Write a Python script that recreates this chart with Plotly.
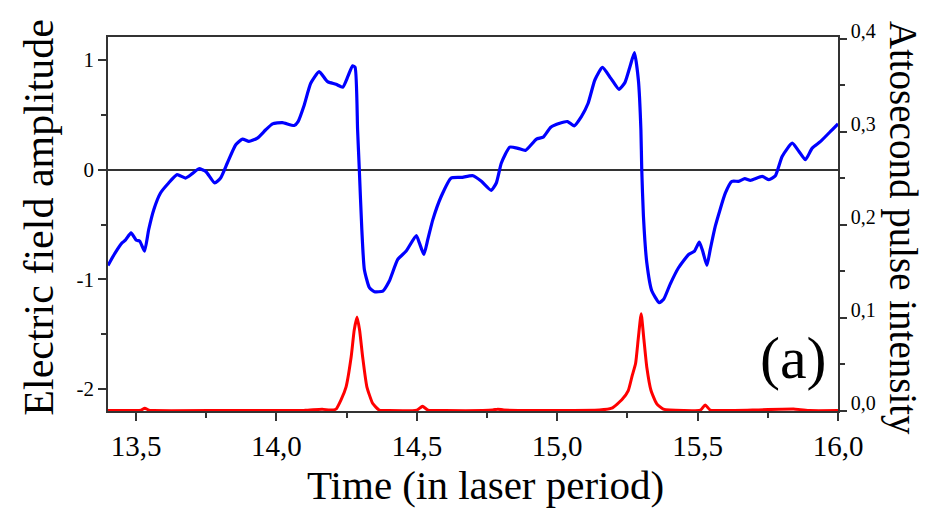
import plotly.graph_objects as go

# Electric field amplitude (left axis)
field_t = [13.400, 13.425, 13.450, 13.462, 13.482, 13.501, 13.513, 13.530, 13.545, 13.563,
           13.587, 13.616, 13.646, 13.676, 13.700, 13.724, 13.748, 13.780, 13.801, 13.825,
           13.855, 13.879, 13.902, 13.932, 13.962, 13.986, 14.021, 14.063, 14.077, 14.099,
           14.122, 14.152, 14.182, 14.212, 14.236, 14.254, 14.271, 14.280, 14.289, 14.295,
           14.304, 14.313, 14.331, 14.349, 14.379, 14.402, 14.432, 14.462, 14.498, 14.509,
           14.525, 14.539, 14.557, 14.587, 14.622, 14.658, 14.700, 14.730, 14.765, 14.783,
           14.801, 14.831, 14.861, 14.887, 14.926, 14.950, 14.977, 15.009, 15.037, 15.060,
           15.086, 15.110, 15.134, 15.161, 15.191, 15.220, 15.241, 15.259, 15.275, 15.289,
           15.298, 15.301, 15.307, 15.319, 15.337, 15.363, 15.379, 15.402, 15.432, 15.468,
           15.489, 15.506, 15.518, 15.533, 15.545, 15.563, 15.599, 15.622, 15.646, 15.668,
           15.688, 15.730, 15.754, 15.777, 15.801, 15.837, 15.861, 15.884, 15.908, 15.938,
           15.979, 16.000]
field_e = [-0.873, -0.760, -0.667, -0.643, -0.576, -0.643, -0.651, -0.742, -0.545, -0.364,
           -0.212, -0.121, -0.045, -0.076, -0.036, 0.009, -0.015, -0.121, -0.076, 0.061,
           0.227, 0.279, 0.258, 0.288, 0.364, 0.418, 0.430, 0.403, 0.439, 0.591,
           0.788, 0.894, 0.803, 0.779, 0.752, 0.848, 0.948, 0.933, 0.364, 0.006,
           -0.545, -0.909, -1.076, -1.112, -1.106, -1.015, -0.818, -0.742, -0.600, -0.667,
           -0.773, -0.636, -0.455, -0.242, -0.076, -0.070, -0.055, -0.106, -0.188, -0.121,
           0.061, 0.206, 0.194, 0.176, 0.279, 0.297, 0.388, 0.424, 0.439, 0.400,
           0.485, 0.606, 0.818, 0.933, 0.833, 0.733, 0.794, 0.939, 1.067, 0.818,
           0.364, 0.006, -0.424, -0.848, -1.106, -1.212, -1.182, -1.045, -0.894, -0.773,
           -0.742, -0.661, -0.742, -0.873, -0.727, -0.515, -0.212, -0.106, -0.106, -0.082,
           -0.097, -0.061, -0.091, -0.055, 0.121, 0.242, 0.167, 0.091, 0.197, 0.258,
           0.364, 0.418]

# Attosecond pulse intensity (right axis)
pulse_t = [13.400, 13.500, 13.518, 13.531, 13.545, 13.560, 13.800, 14.100, 14.163, 14.190,
           14.212, 14.230, 14.248, 14.266, 14.277, 14.287, 14.296, 14.307, 14.322, 14.343,
           14.366, 14.400, 14.500, 14.520, 14.540, 14.600, 14.770, 14.788, 14.810, 15.000,
           15.150, 15.194, 15.230, 15.253, 15.267, 15.279, 15.289, 15.299, 15.308, 15.319,
           15.334, 15.354, 15.378, 15.450, 15.510, 15.527, 15.545, 15.600, 15.848, 15.900,
           16.000]
pulse_i = [0.0005, 0.0005, 0.001, 0.003, 0.001, 0.0005, 0.0005, 0.0008, 0.002, 0.001,
           0.002, 0.012, 0.026, 0.058, 0.087, 0.101, 0.087, 0.058, 0.026, 0.008,
           0.001, 0.0005, 0.001, 0.005, 0.001, 0.0005, 0.001, 0.002, 0.001, 0.0005,
           0.001, 0.003, 0.012, 0.022, 0.038, 0.051, 0.079, 0.1045, 0.079, 0.047,
           0.022, 0.008, 0.002, 0.0005, 0.001, 0.0065, 0.001, 0.0005, 0.002, 0.0005,
           0.0005]

x_ticks = [13.5, 14.0, 14.5, 15.0, 15.5, 16.0]
x_labels = ["13,5", "14,0", "14,5", "15,0", "15,5", "16,0"]
y_ticks = [-2, -1, 0, 1]
y_labels = ["-2", "-1", "0", "1"]
y2_ticks = [0.0, 0.1, 0.2, 0.3, 0.4]
y2_labels = ["0,0", "0,1", "0,2", "0,3", "0,4"]

FONT = "Liberation Serif"
AX = "#333333"

fig = go.Figure()
fig.add_trace(go.Scatter(x=field_t, y=field_e, mode="lines",
                         line=dict(color="#0000ff", width=3.2, shape="spline", smoothing=0.5),
                         yaxis="y", showlegend=False))
fig.add_trace(go.Scatter(x=pulse_t, y=pulse_i, mode="lines",
                         line=dict(color="#ff0000", width=3, shape="spline", smoothing=0.5),
                         yaxis="y2", showlegend=False))

fig.update_layout(
    width=928, height=512,
    margin=dict(l=108, r=90, t=37, b=101),
    paper_bgcolor="white", plot_bgcolor="white",
    font=dict(family=FONT, color="black"),
    xaxis=dict(range=[13.4, 16.0], tickvals=x_ticks, ticktext=x_labels,
               ticks="outside", ticklen=8, tickwidth=1.5, tickcolor=AX,
               minor=dict(dtick=0.25, tick0=13.25, ticks="outside", ticklen=5,
                          tickwidth=1.5, tickcolor=AX, showgrid=False),
               showline=True, linecolor=AX, linewidth=1.5, mirror=True,
               showgrid=False, zeroline=False, layer="below traces",
               tickfont=dict(size=29, family=FONT, color="black")),
    yaxis=dict(range=[-2.2, 1.21], tickvals=y_ticks, ticktext=y_labels,
               ticks="outside", ticklen=8, tickwidth=1.5, tickcolor=AX,
               minor=dict(dtick=0.5, tick0=-2.5, ticks="outside", ticklen=5,
                          tickwidth=1.5, tickcolor=AX, showgrid=False),
               showline=True, linecolor=AX, linewidth=1.5,
               showgrid=False, zeroline=True, zerolinecolor=AX, zerolinewidth=1.5,
               layer="below traces",
               tickfont=dict(size=21, family=FONT, color="black")),
    yaxis2=dict(range=[0, 0.402], overlaying="y", side="right",
                tickvals=y2_ticks, ticktext=y2_labels,
                ticks="outside", ticklen=7, tickwidth=1.5, tickcolor=AX,
                minor=dict(dtick=0.05, ticks="outside", ticklen=5,
                           tickwidth=1.5, tickcolor=AX, showgrid=False),
                showline=True, linecolor=AX, linewidth=1.5,
                showgrid=False, zeroline=False, layer="below traces",
                ticklabelshift=-8,
                tickfont=dict(size=20, family=FONT, color="black")),
    annotations=[
        dict(text="Electric field amplitude", xref="paper", yref="paper",
             x=-0.0945, y=0.517, xanchor="center", yanchor="middle",
             textangle=-90, showarrow=False, font=dict(size=42, family=FONT)),
        dict(text="Attosecond pulse intensity", xref="paper", yref="paper",
             x=1.0890, y=0.49, xanchor="center", yanchor="middle",
             textangle=90, showarrow=False, font=dict(size=39, family=FONT)),
        dict(text="Time (in laser period)", xref="paper", yref="paper",
             x=0.5178, y=-0.199, xanchor="center", yanchor="middle",
             showarrow=False, font=dict(size=41, family=FONT)),
        dict(text="(a)", xref="x", yref="y", x=15.842, y=-1.72,
             xanchor="center", yanchor="middle", showarrow=False,
             font=dict(size=60, family=FONT)),
    ],
)

fig.write_html("out.html")
